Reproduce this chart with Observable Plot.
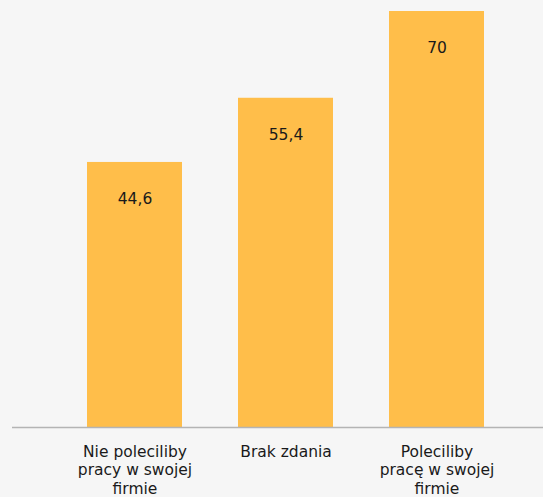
<!DOCTYPE html>
<html><head><meta charset="utf-8">
<script src="https://cdn.jsdelivr.net/npm/d3@7"></script>
<script src="https://cdn.jsdelivr.net/npm/@observablehq/plot@0.6"></script>
<style>
html,body{margin:0;padding:0;background:#f6f6f6;}
</style>
</head><body>
<div id="chart"></div>
<script>
const categories = ["Nie poleciliby\npracy w swojej\nfirmie", "Brak zdania", "Poleciliby\npracę w swojej\nfirmie"];
const values = [44.6, 55.4, 70];
const valueLabels = ["44,6", "55,4", "70"];

const data = categories.map((c, i) => ({category: c, value: values[i], label: valueLabels[i]}));

const chart = Plot.plot({
  width: 543,
  height: 497,
  marginLeft: 12,
  marginRight: 0,
  marginTop: 11,
  marginBottom: 70,
  style: {background: "#f6f6f6", fontFamily: "'DejaVu Sans', sans-serif", fontSize: "15px", color: "#1a1a1a"},
  x: {domain: categories, paddingInner: 0.373, paddingOuter: 0.439, align: 0.556, label: null},
  y: {domain: [0, 70], axis: null},
  marks: [
    Plot.barY(data, {x: "category", y: "value", fill: "#FFBE4A"}),
    Plot.ruleY([0], {stroke: "#b4b4b4", strokeWidth: 1.5}),
    Plot.text(data, {x: "category", y: "value", text: "label", dy: 37, fill: "#1a1a1a", fontSize: 15.5}),
    Plot.axisX({tickSize: 0, tickPadding: 16, lineAnchor: "top", fontSize: 15.5, fill: "#1a1a1a", label: null, lineHeight: 1.2})
  ]
});
document.getElementById("chart").appendChild(chart);
</script>
</body></html>
